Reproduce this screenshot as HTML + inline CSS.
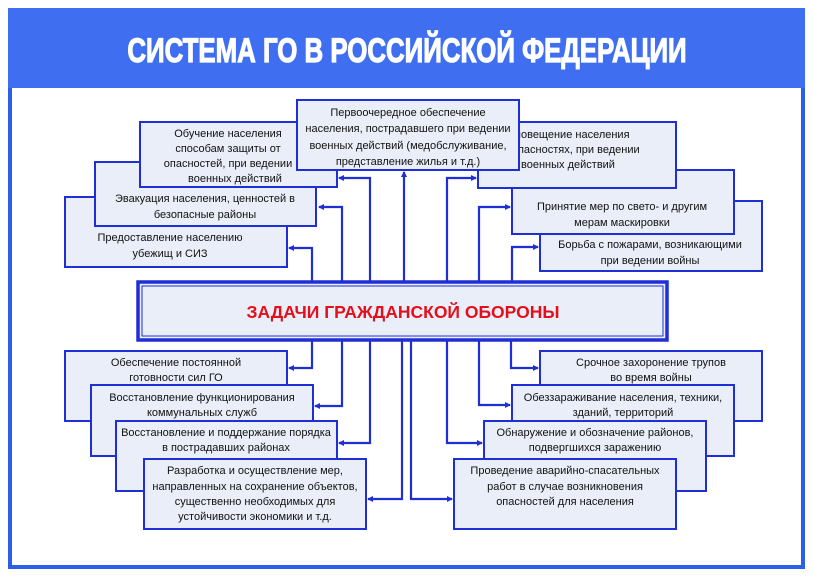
<!DOCTYPE html>
<html><head><meta charset="utf-8"><style>
html,body{margin:0;padding:0;background:#fff;}
svg{display:block;}
text{font-family:"Liberation Sans",Arial,sans-serif;}
.t{font-size:11px;fill:#111;text-anchor:middle;}
.b{fill:#e9eef8;stroke:#1f2fd6;stroke-width:2;}
.l{fill:none;stroke:#1f2fd6;stroke-width:2.2;}
</style></head><body>
<svg width="813" height="576" viewBox="0 0 813 576" xmlns="http://www.w3.org/2000/svg">
<defs><marker id="a" markerWidth="6" markerHeight="6" refX="5" refY="3" orient="auto" markerUnits="userSpaceOnUse"><path d="M0,0 L6,3 L0,6 z" fill="#1f2fd6"/></marker></defs>
<rect x="0" y="0" width="813" height="576" fill="#fff"/>
<rect x="10" y="10" width="793" height="557" fill="#fff" stroke="#2b5fe9" stroke-width="4"/>
<rect x="8" y="8" width="797" height="80" fill="#3f6ff0"/>
<text x="407" y="62" text-anchor="middle" font-size="34" font-weight="bold" fill="#fff" stroke="#fff" stroke-width="1.2" transform="translate(407 0) scale(0.76 1) translate(-407 0)">СИСТЕМА ГО В РОССИЙСКОЙ ФЕДЕРАЦИИ</text>

<path class="l" d="M312,282 V248 H289" marker-end="url(#a)"/>
<path class="l" d="M342,282 V207 H319" marker-end="url(#a)"/>
<path class="l" d="M370,282 V178 H339" marker-end="url(#a)"/>
<path class="l" d="M404,282 V172" marker-end="url(#a)"/>
<path class="l" d="M447,282 V178 H476" marker-end="url(#a)"/>
<path class="l" d="M479,282 V207 H510" marker-end="url(#a)"/>
<path class="l" d="M512,282 V247 H538" marker-end="url(#a)"/>
<path class="l" d="M312,340 V368 H289" marker-end="url(#a)"/>
<path class="l" d="M342,340 V406 H315" marker-end="url(#a)"/>
<path class="l" d="M370,340 V443 H339" marker-end="url(#a)"/>
<path class="l" d="M402,340 V499 H368" marker-end="url(#a)"/>
<path class="l" d="M411,340 V499 H452" marker-end="url(#a)"/>
<path class="l" d="M447,340 V443 H482" marker-end="url(#a)"/>
<path class="l" d="M479,340 V405 H510" marker-end="url(#a)"/>
<path class="l" d="M511,340 V368 H538" marker-end="url(#a)"/>

<rect class="b" x="65" y="197" width="222" height="70"/>
<text class="t" x="170" y="241">Предоставление населению</text>
<text class="t" x="170" y="257">убежищ и СИЗ</text>
<rect class="b" x="95" y="162" width="221" height="64"/>
<text class="t" x="205" y="202">Эвакуация населения, ценностей в</text>
<text class="t" x="205" y="218">безопасные районы</text>
<rect class="b" x="140" y="122" width="197" height="65"/>
<text class="t" x="228" y="137">Обучение населения</text>
<text class="t" x="228" y="152">способам защиты от</text>
<text class="t" x="228" y="167">опасностей, при ведении</text>
<text class="t" x="235" y="182">военных действий</text>
<rect class="b" x="540" y="201" width="222" height="70"/>
<text class="t" x="650" y="248">Борьба с пожарами, возникающими</text>
<text class="t" x="650" y="264">при ведении войны</text>
<rect class="b" x="512" y="170" width="222" height="64"/>
<text class="t" x="622" y="210">Принятие мер по свето- и другим</text>
<text class="t" x="622" y="226">мерам маскировки</text>
<rect class="b" x="478" y="122" width="198" height="66"/>
<text class="t" x="568" y="138">Оповещение  населения</text>
<text class="t" x="568" y="153">об опасностях, при ведении</text>
<text class="t" x="568" y="168">военных действий</text>
<rect class="b" x="297" y="100" width="222" height="70"/>
<text class="t" x="408" y="116">Первоочередное обеспечение</text>
<text class="t" x="408" y="132">населения, пострадавшего при ведении</text>
<text class="t" x="408" y="149">военных действий (медобслуживание,</text>
<text class="t" x="408" y="165">представление жилья и т.д.)</text>

<rect x="138" y="282" width="529" height="58" fill="#e9eef8" stroke="#1f2fd6" stroke-width="3.5"/>
<rect x="142" y="286" width="521" height="50" fill="none" stroke="#1f2fd6" stroke-width="1"/>
<text x="403" y="318" text-anchor="middle" font-size="17.5" font-weight="bold" fill="#e3101c">ЗАДАЧИ ГРАЖДАНСКОЙ ОБОРОНЫ</text>

<rect class="b" x="65" y="351" width="222" height="70"/>
<text class="t" x="176" y="366">Обеспечение постоянной</text>
<text class="t" x="176" y="381">готовности сил ГО</text>
<rect class="b" x="91" y="385" width="222" height="71"/>
<text class="t" x="202" y="401">Восстановление функционирования</text>
<text class="t" x="202" y="416">коммунальных служб</text>
<rect class="b" x="116" y="421" width="221" height="70"/>
<text class="t" x="226" y="436">Восстановление и поддержание порядка</text>
<text class="t" x="226" y="451">в пострадавших районах</text>
<rect class="b" x="144" y="459" width="222" height="70"/>
<text class="t" x="255" y="474">Разработка и осуществление мер,</text>
<text class="t" x="255" y="490">направленных на сохранение объектов,</text>
<text class="t" x="255" y="505">существенно необходимых для</text>
<text class="t" x="255" y="520">устойчивости экономики и т.д.</text>
<rect class="b" x="540" y="351" width="222" height="70"/>
<text class="t" x="651" y="366">Срочное захоронение трупов</text>
<text class="t" x="651" y="381">во время войны</text>
<rect class="b" x="512" y="385" width="222" height="71"/>
<text class="t" x="623" y="401">Обеззараживание населения, техники,</text>
<text class="t" x="623" y="416">зданий, территорий</text>
<rect class="b" x="484" y="421" width="222" height="70"/>
<text class="t" x="595" y="436">Обнаружение и обозначение районов,</text>
<text class="t" x="595" y="451">подвергшихся заражению</text>
<rect class="b" x="454" y="459" width="222" height="70"/>
<text class="t" x="565" y="474">Проведение аварийно-спасательных</text>
<text class="t" x="565" y="490">работ в случае возникновения</text>
<text class="t" x="565" y="505">опасностей для населения</text>
</svg>
</body></html>
